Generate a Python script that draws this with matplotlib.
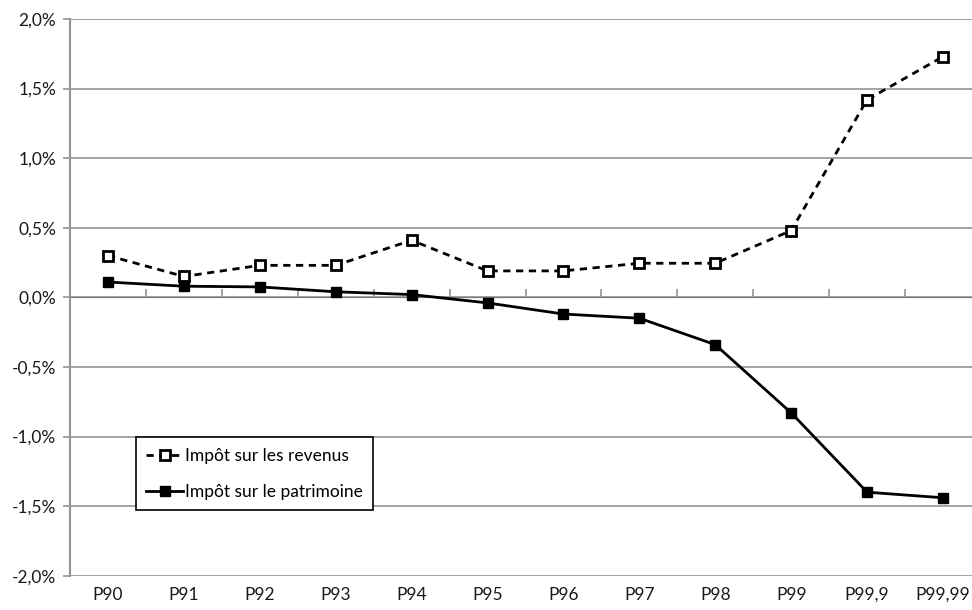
import matplotlib
matplotlib.use("Agg")
import matplotlib.pyplot as plt
from matplotlib.ticker import FuncFormatter

categories = ["P90", "P91", "P92", "P93", "P94", "P95", "P96", "P97", "P98", "P99", "P99,9", "P99,99"]
revenus = [0.30, 0.15, 0.23, 0.23, 0.41, 0.19, 0.19, 0.245, 0.245, 0.48, 1.42, 1.73]
patrimoine = [0.11, 0.08, 0.075, 0.04, 0.02, -0.04, -0.12, -0.15, -0.34, -0.83, -1.40, -1.44]
yticks = [-2.0, -1.5, -1.0, -0.5, 0.0, 0.5, 1.0, 1.5, 2.0]

plt.rcParams['font.family'] = ['Lato', 'DejaVu Sans']
W, H = 972, 610
fig = plt.figure(figsize=(W / 100, H / 100), dpi=100)
left, right, top, bottom = 70, 981, 19, 575.7
ax = fig.add_axes([left / W, (H - bottom) / H, (right - left) / W, (bottom - top) / H])

x = list(range(len(categories)))
ax.plot(x, revenus, linestyle=(0, (2.6, 2.0)), color='black', lw=2.0, marker='s', markersize=7,
        markerfacecolor='white', markeredgecolor='black', markeredgewidth=2, label='Impôt sur les revenus')
ax.plot(x, patrimoine, linestyle='-', color='black', lw=2.0, marker='s', markersize=7,
        markerfacecolor='black', markeredgecolor='black', label='Impôt sur le patrimoine')

ax.set_xlim(-0.5, len(categories) - 0.5)
ax.set_ylim(-2.0, 2.0)
ax.set_yticks(yticks)
ax.yaxis.set_major_formatter(FuncFormatter(lambda v, p: f"{v:.1f}%".replace('.', ',')))
ax.yaxis.grid(True, color='#939393', lw=1.2)
ax.set_axisbelow(True)
for s in ['top', 'right', 'bottom']:
    ax.spines[s].set_visible(False)
ax.spines['left'].set_color('#939393')
ax.spines['left'].set_linewidth(1.5)
ax.tick_params(axis='y', length=5, width=1.2, color='#939393', labelsize=12.5, pad=5, labelcolor='#1a1a1a')
ax.set_xticks(x)
ax.set_xticklabels(categories)
ax.tick_params(axis='x', length=0, labelsize=12.5, pad=8, labelcolor='#1a1a1a')

sec = ax.secondary_xaxis(0.5)
sec.set_xticks([i - 0.5 for i in range(len(categories) + 1)])
sec.set_xticklabels([])
sec.tick_params(axis='x', length=6, width=1.2, color='#939393', direction='out')
sec.spines['bottom'].set_color('#939393')
sec.spines['bottom'].set_linewidth(1.5)

leg = ax.legend(loc='lower left', bbox_to_anchor=(0.0724, 0.118), borderaxespad=0,
                fancybox=False, edgecolor='black', framealpha=1, fontsize=12.5,
                handlelength=2.1, handletextpad=0.1, labelspacing=1.15, borderpad=0.6)
leg.get_frame().set_linewidth(1.2)

fig.savefig("out.png", dpi=100)
